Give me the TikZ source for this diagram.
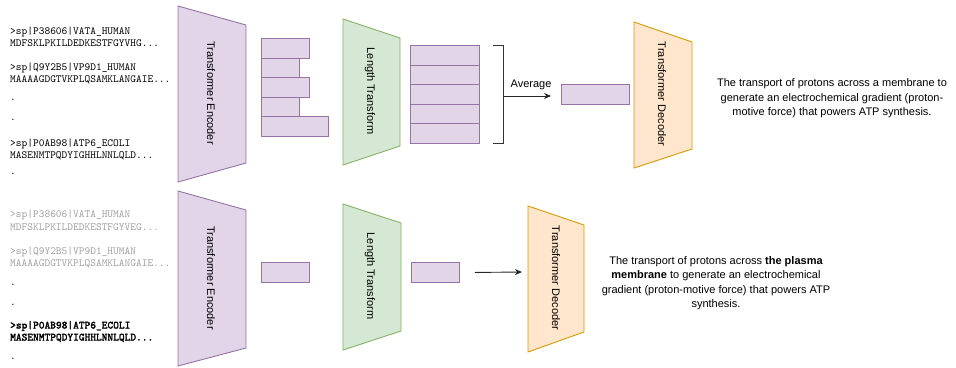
\documentclass[tikz,border=0pt]{standalone}
\usepackage{fontspec}
\setmainfont{Liberation Sans}
\newfontfamily\seqbf{Latin Modern Mono}[FakeBold=2.2]
\usetikzlibrary{arrows.meta}
\definecolor{purfill}{HTML}{E1D5E7}
\definecolor{purline}{HTML}{9673A6}
\definecolor{grnfill}{HTML}{D5E8D4}
\definecolor{grnline}{HTML}{82B366}
\definecolor{orgfill}{HTML}{FFE6CC}
\definecolor{orgline}{HTML}{D79B00}
\definecolor{seqgray}{HTML}{A0A0A0}
\definecolor{brk}{HTML}{333333}
\tikzset{
  enc/.style={fill=purfill,draw=purline,line width=0.9pt,line join=miter},
  lent/.style={fill=grnfill,draw=grnline,line width=0.9pt},
  decs/.style={fill=orgfill,draw=orgline,line width=0.9pt},
  bar/.style={fill=purfill,draw=purline,line width=0.9pt,inner sep=0pt,anchor=north west},
  rlabel/.style={rotate=-90,font=\fontsize{11}{13}\selectfont,inner sep=0pt},
  seq/.style={anchor=base west,inner sep=0pt,font=\ttfamily\fontsize{10.9}{12}\selectfont},
  seqb/.style={seq,font=\seqbf\bfseries\fontsize{10.9}{12}\selectfont},
  desc/.style={align=center,inner sep=0pt,font=\fontsize{11}{14.4}\selectfont},
  conn/.style={draw=black!85,line width=0.9pt,-{Stealth[length=7pt,width=6pt]}}
}
\begin{document}
\begin{tikzpicture}[x=1pt,y=-1pt]
\useasboundingbox (0,0) rectangle (956,367);
% ---------- top row: sequences ----------
\node[seq] (s1) at (10,34.5) {>sp|P38606|VATA\_HUMAN};
\node[seq] (s2) at (10,46.5) {MDFSKLPKILDEDKESTFGYVHG...};
\node[seq] (s3) at (10,70.5) {>sp|Q9Y2B5|VP9D1\_HUMAN};
\node[seq] (s4) at (10,82.5) {MAAAAGDGTVKPLQSAMKLANGAIE...};
\node[seq] (s5) at (10,100) {.};
\node[seq] (s6) at (10,120) {.};
\node[seq] (s7) at (10,146.5) {>sp|P0AB98|ATP6\_ECOLI};
\node[seq] (s8) at (10,158.5) {MASENMTPQDYIGHHLNNLQLD...};
\node[seq] (s9) at (10,174) {.};
% encoder
\draw[enc] (178,6) -- (246,25) -- (246,163) -- (178,182) -- cycle;
\node[rlabel] (encT) at (211,93) {Transformer Encoder};
% variable-length embeddings
\node[bar,minimum width=48pt,minimum height=19.6pt] (e1) at (261,38) {};
\node[bar,minimum width=38pt,minimum height=19.6pt] (e2) at (261,57.6) {};
\node[bar,minimum width=48pt,minimum height=19.6pt] (e3) at (261,77.2) {};
\node[bar,minimum width=38pt,minimum height=19.6pt] (e4) at (261,96.8) {};
\node[bar,minimum width=67pt,minimum height=19.6pt] (e5) at (261,116.4) {};
% length transform
\draw[lent] (343,19) -- (400,38) -- (400,146) -- (343,165) -- cycle;
\node[rlabel] (lenT) at (370,91) {Length Transform};
% fixed-length stack
\foreach \i in {0,...,4}{
  \node[bar,minimum width=69pt,minimum height=19.6pt] (f\i) at (410,45+19.6*\i) {};
}
% bracket
\draw[draw=brk,line width=0.9pt] (493,45) -- (503,45) -- (503,143) -- (493,143);
\coordinate (brkmid) at (503,96);
\node[bar,minimum width=68pt,minimum height=20pt] (avg) at (561,84) {};
\draw[conn] (brkmid) -- ([xshift=-10pt]brkmid -| avg.west);
\node[font=\fontsize{11}{13}\selectfont,inner sep=0pt] (avgl) at (531,85) {Average};
% decoder
\draw[decs] (634,22) -- (692,42) -- (692,149) -- (634,168) -- cycle;
\node[rlabel] (decT) at (662,94) {Transformer Decoder};
\node[desc] (txtT) at (832,98.5) {The transport of protons across a membrane to\\generate an electrochemical gradient (proton-\\motive force) that powers ATP synthesis.};

% ---------- bottom row ----------
\node[seq,text=seqgray] (t1) at (10,217.5) {>sp|P38606|VATA\_HUMAN};
\node[seq,text=seqgray] (t2) at (10,230.5) {MDFSKLPKILDEDKESTFGYVEG...};
\node[seq,text=seqgray] (t3) at (10,254.5) {>sp|Q9Y2B5|VP9D1\_HUMAN};
\node[seq,text=seqgray] (t4) at (10,266.5) {MAAAAGDGTVKPLQSAMKLANGAIE...};
\node[seq] (t5) at (10,285) {.};
\node[seq] (t6) at (10,305) {.};
\node[seqb] (t7) at (10,328.5) {>sp|P0AB98|ATP6\_ECOLI};
\node[seqb] (t8) at (10,340.5) {MASENMTPQDYIGHHLNNLQLD...};
\node[seq] (t9) at (10,359) {.};
\draw[enc] (178,191) -- (246,210) -- (246,348) -- (178,366) -- cycle;
\node[rlabel] (encB) at (211,278) {Transformer Encoder};
\node[bar,minimum width=48pt,minimum height=20pt] (g1) at (261,262) {};
\draw[lent] (343,204) -- (401,223) -- (401,331) -- (343,350) -- cycle;
\node[rlabel] (lenB) at (370,276) {Length Transform};
\node[bar,minimum width=48pt,minimum height=20pt] (g2) at (411,262) {};
\draw[decs] (528,206) -- (584,225) -- (584,332) -- (528,352) -- cycle;
\coordinate (decBw) at (528,272);
\node[rlabel] (decB) at (556,278) {Transformer Decoder};
\draw[conn] ([xshift=15pt]g2.east) -- ([xshift=-6pt]decBw);
\node[desc] (txtB) at (716,283) {The transport of protons across \textbf{the plasma}\\\textbf{membrane} to generate an electrochemical\\gradient (proton-motive force) that powers ATP\\synthesis.};
\end{tikzpicture}
\end{document}
